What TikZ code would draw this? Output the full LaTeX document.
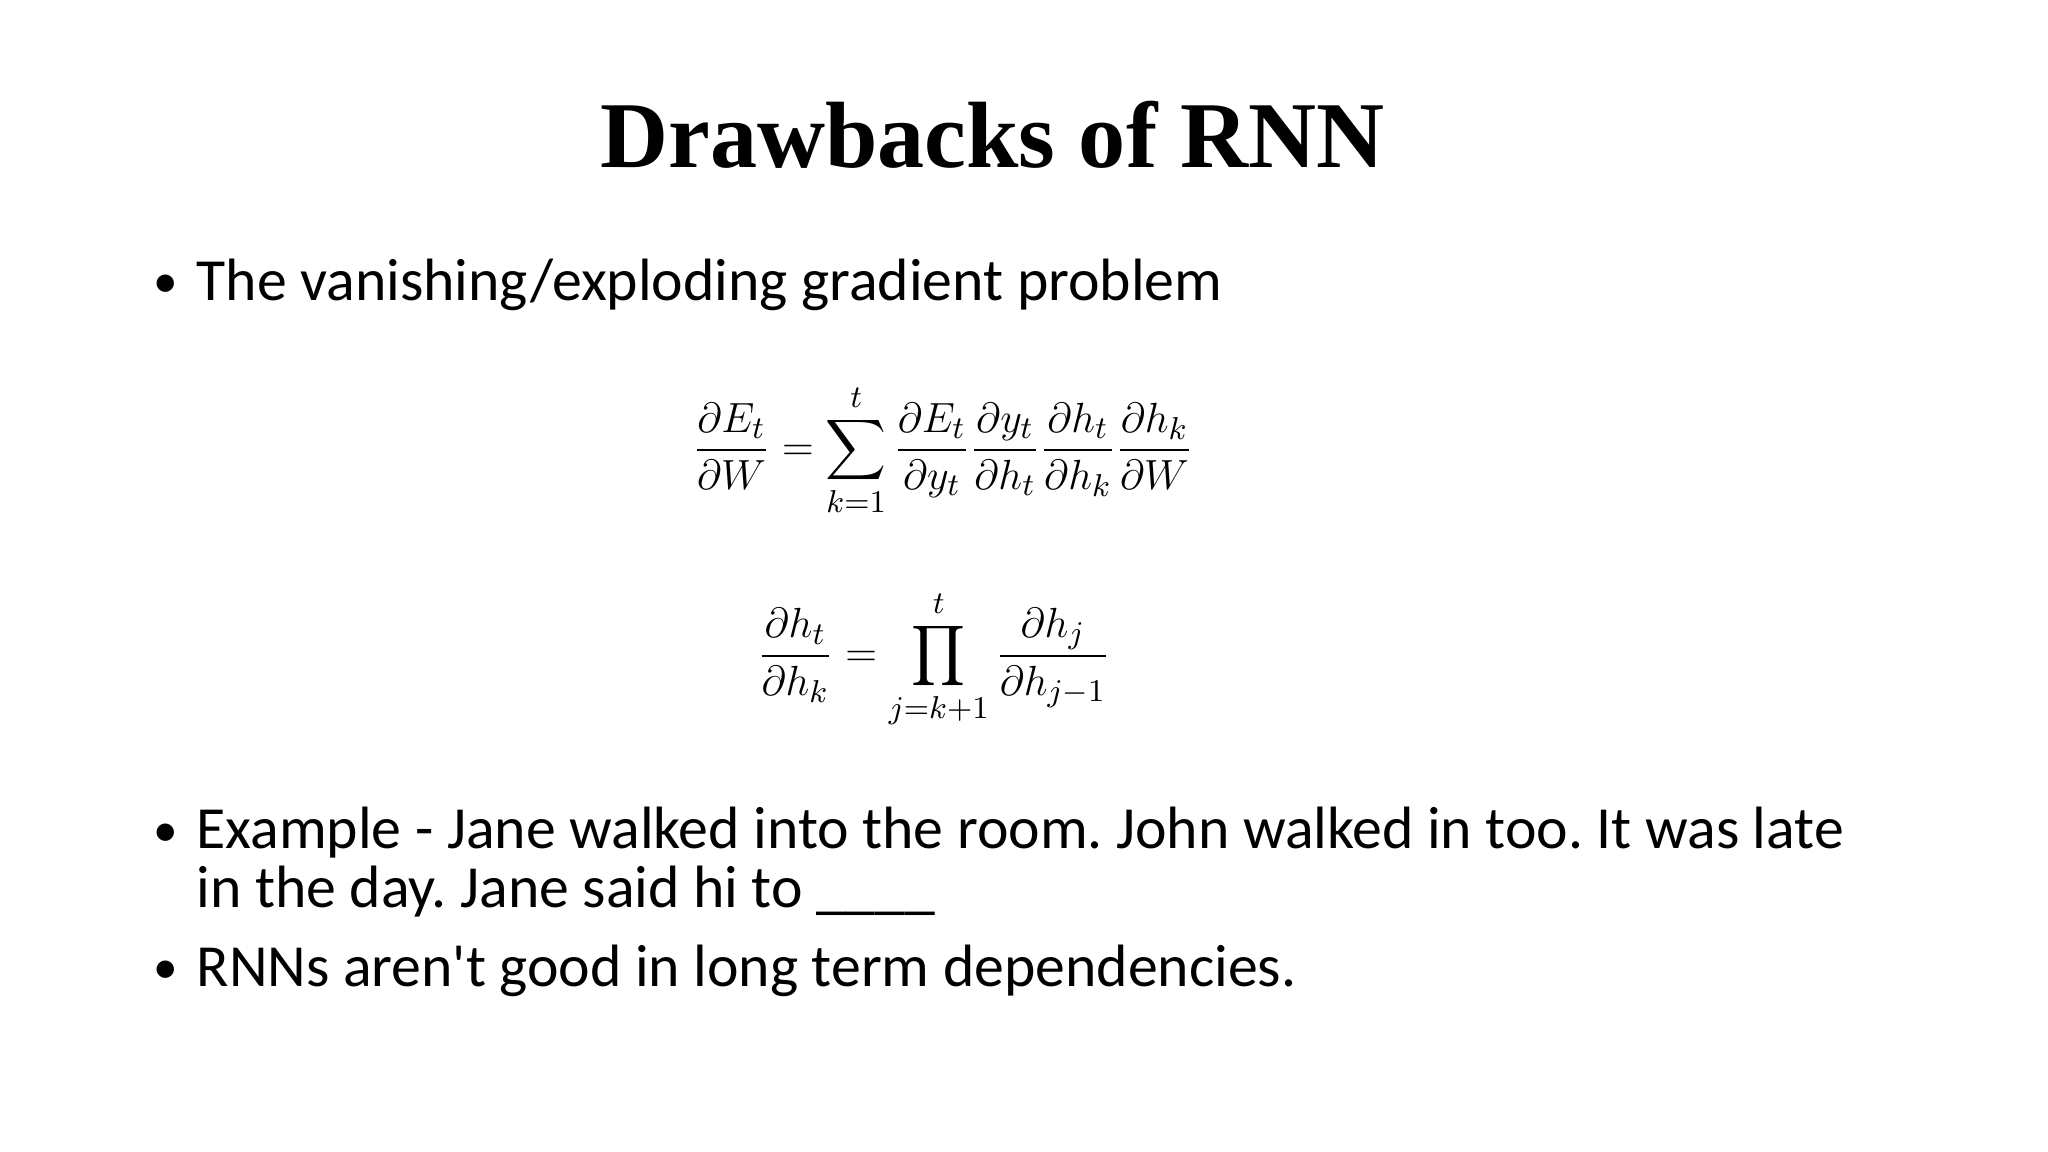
\documentclass[tikz,border=0pt]{standalone}
\usepackage{fontspec}
\setmainfont{Carlito}
\newfontfamily\titlefont{Liberation Serif}
\usepackage{amsmath}
\usepackage{textcomp}
\begin{document}
\frenchspacing
\begin{tikzpicture}[x=0.013061cm,y=-0.013061cm,
  bodytext/.style={anchor=base west,inner sep=0pt,font=\fontsize{17}{20}\selectfont},
  bul/.style={anchor=base,inner sep=0pt,font=\fontsize{14}{20}\selectfont},
  eq/.style={inner sep=0pt,font=\fontsize{12.7}{15}\selectfont}]
\useasboundingbox (0,0) rectangle (1568,882);
\node[anchor=base,inner sep=0pt,font=\titlefont\bfseries\fontsize{26.8}{32}\selectfont] (title) at (760,128) {Drawbacks of RNN};
\node[bul] (b1) at (127,228) {•};
\node[bodytext] (t1) at (150,230) {The vanishing/exploding gradient problem};
\node[eq] (e1) at (722,345) {$\displaystyle \frac{\partial E_t}{\partial W}=\sum_{k=1}^{t}\frac{\partial E_t}{\partial y_t}\frac{\partial y_t}{\partial h_t}\frac{\partial h_t}{\partial h_k}\frac{\partial h_k}{\partial W}$};
\node[eq] (e2) at (715,505) {$\displaystyle \frac{\partial h_t}{\partial h_k}=\prod_{j=k+1}^{t}\frac{\partial h_j}{\partial h_{j-1}}$};
\node[bul] (b2) at (127,648) {•};
\node[bodytext] (t2) at (150,650) {Example - Jane walked into the room. John walked in too. It was late};
\node[bodytext] (t3) at (150,695) {in the day. Jane said hi to \_\_\_\_};
\node[bul] (b3) at (127,753) {•};
\node[bodytext] (t4) at (150,755) {RNNs aren\textquotesingle t good in long term dependencies.};
\end{tikzpicture}
\end{document}
